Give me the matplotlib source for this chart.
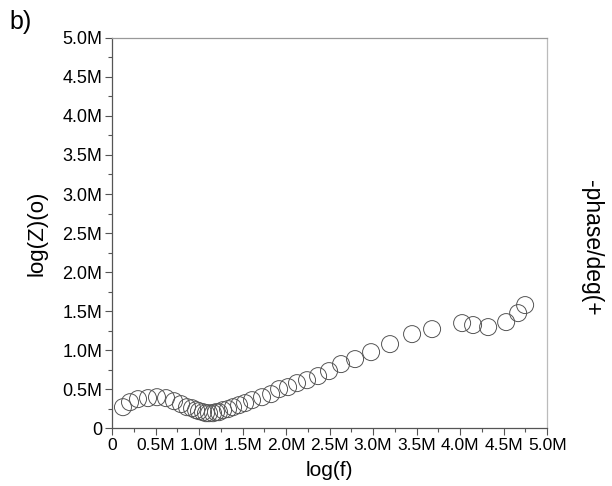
import matplotlib
matplotlib.use("Agg")
import matplotlib.pyplot as plt
from matplotlib.ticker import MultipleLocator, FuncFormatter

plt.rcParams['font.family'] = ['Liberation Sans', 'DejaVu Sans']

# values in millions
log_f = [0.126, 0.207, 0.299, 0.414, 0.517, 0.621, 0.713, 0.793, 0.862, 0.920,
         0.966, 1.000, 1.046, 1.080, 1.115, 1.161, 1.195, 1.230, 1.276, 1.333,
         1.391, 1.460, 1.529, 1.609, 1.724, 1.828, 1.920, 2.023, 2.126, 2.241,
         2.368, 2.494, 2.632, 2.793, 2.977, 3.195, 3.448, 3.678, 4.023, 4.149,
         4.322, 4.529, 4.667, 4.747]
log_z = [0.269, 0.333, 0.372, 0.385, 0.397, 0.385, 0.346, 0.308, 0.269, 0.256,
         0.231, 0.218, 0.205, 0.192, 0.192, 0.192, 0.205, 0.205, 0.231, 0.244,
         0.269, 0.295, 0.321, 0.359, 0.397, 0.436, 0.500, 0.526, 0.577, 0.615,
         0.667, 0.731, 0.821, 0.885, 0.974, 1.077, 1.205, 1.269, 1.346, 1.321,
         1.295, 1.359, 1.474, 1.577]

fig = plt.figure(figsize=(6.12, 4.86), dpi=100)
ax = fig.add_axes([0.183, 0.119, 0.711, 0.803])

ax.scatter(log_f, log_z, s=150, facecolors='none', edgecolors='#555555',
           linewidths=0.7, zorder=3)

ax.set_xlim(0, 5.0)
ax.set_ylim(0, 5.0)

mfmt = FuncFormatter(lambda v, p: '0' if v == 0 else '%.1fM' % v)
for axis in (ax.xaxis, ax.yaxis):
    axis.set_major_locator(MultipleLocator(0.5))
    axis.set_minor_locator(MultipleLocator(0.25))
    axis.set_major_formatter(mfmt)

ax.tick_params(which='major', direction='out', length=5, width=0.8,
               color='#555555', labelsize=13, pad=2)
ax.tick_params(axis='x', which='major', labelsize=12.5)
ax.tick_params(which='minor', direction='out', length=3, width=0.8,
               color='#555555')

ax.spines['left'].set_color('#555555')
ax.spines['bottom'].set_color('#555555')
ax.spines['top'].set_color('#999999')
ax.spines['right'].set_color('#bbbbbb')
for s in ax.spines.values():
    s.set_linewidth(0.9)

ax.set_xlabel('log(f)', fontsize=15)
ax.set_ylabel('log(Z)(o)', fontsize=16)
ax.xaxis.set_label_coords(0.5, -0.083)
ax.yaxis.set_label_coords(-0.149, 0.5)

fig.text(0.966, 0.49, '-phase/deg(+', rotation=270, fontsize=16.5,
         ha='center', va='center')
fig.text(0.015, 0.955, 'b)', fontsize=18, ha='left', va='center')

fig.savefig('out.png', dpi=100)
